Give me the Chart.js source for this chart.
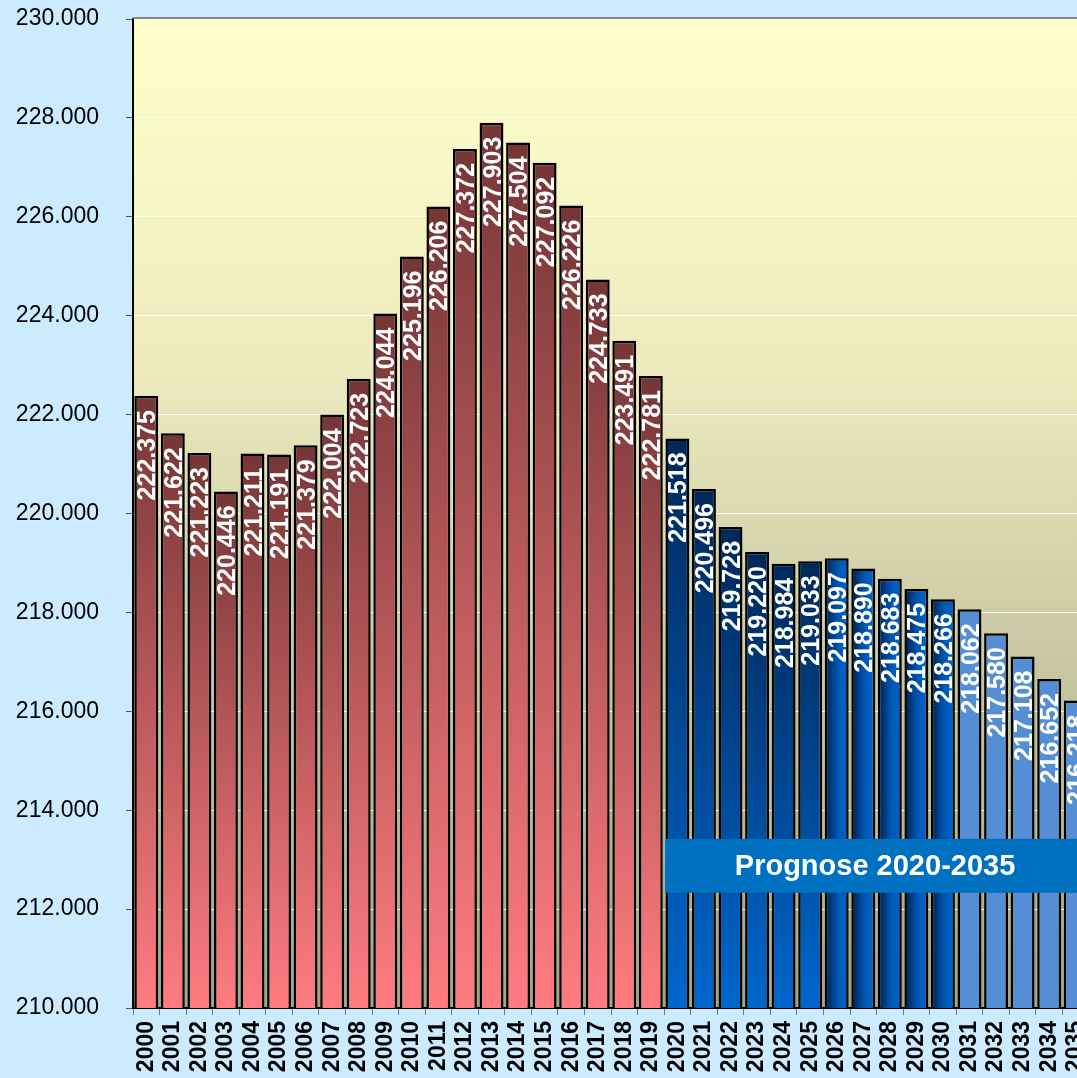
<!DOCTYPE html>
<html>
<head>
<meta charset="utf-8">
<script src="https://cdn.jsdelivr.net/npm/chart.js@4.4.1/dist/chart.umd.min.js"></script>
<style>
  html, body { margin: 0; padding: 0; background: #CCEBFF; overflow: hidden; }
  #wrap { width: 1100px; height: 1078px; }
</style>
</head>
<body>
<div id="wrap"><canvas id="c" width="1100" height="1078"></canvas></div>
<script>
// ---- data ----
const years = ['2000','2001','2002','2003','2004','2005','2006','2007','2008','2009',
  '2010','2011','2012','2013','2014','2015','2016','2017','2018','2019',
  '2020','2021','2022','2023','2024','2025','2026','2027','2028','2029',
  '2030','2031','2032','2033','2034','2035'];
const population = [222375, 221622, 221223, 220446, 221211, 221191, 221379, 222004, 222723, 224044,
  225196, 226206, 227372, 227903, 227504, 227092, 226226, 224733, 223491, 222781,
  221518, 220496, 219728, 219220, 218984, 219033, 219097, 218890, 218683, 218475,
  218266, 218062, 217580, 217108, 216652, 216218];
const yMin = 210000;
const yMax = 230000;
const yStep = 2000;
const forecastStartYear = 2020;
const forecastTitle = 'Prognose 2020-2035';

const FONT = '"Liberation Sans", Arial, Helvetica, sans-serif';
const fmt = v => Math.round(v).toString().replace(/\B(?=(\d{3})+(?!\d))/g, '.');

function barFill(ctx) {
  const chart = ctx.chart;
  const area = chart.chartArea;
  if (!area || ctx.type !== 'data') return '#884444';
  const i = ctx.dataIndex;
  const yr = parseInt(years[i], 10);
  const ys = chart.scales.y, xs = chart.scales.x;
  const top = ys.getPixelForValue(ctx.raw);
  const bottom = ys.getPixelForValue(yMin);
  const c = chart.ctx;
  if (yr < forecastStartYear) {
    const g = c.createLinearGradient(0, top, 0, bottom);
    g.addColorStop(0, '#763636');
    g.addColorStop(1, '#FF7C80');
    return g;
  }
  if (yr <= 2025) {
    const g = c.createLinearGradient(0, top, 0, bottom);
    g.addColorStop(0, '#00285A');
    g.addColorStop(1, '#0066CC');
    return g;
  }
  if (yr <= 2030) {
    const cx = xs.getPixelForValue(i);
    const w = (xs.width / years.length) * 0.9;
    const g = c.createLinearGradient(cx - w / 2, 0, cx + w / 2, 0);
    g.addColorStop(0, '#001E48');
    g.addColorStop(0.55, '#0056B4');
    g.addColorStop(1, '#0068D0');
    return g;
  }
  return '#558ED5';
}

const bgPlugin = {
  id: 'plotBg',
  beforeDraw(chart) {
    const { ctx, chartArea: a } = chart;
    ctx.save();
    const g = ctx.createLinearGradient(0, a.top, 0, a.bottom);
    g.addColorStop(0, '#FFFFCC');
    g.addColorStop(0.35, '#EDEBBE');
    g.addColorStop(0.65, '#C8C7A2');
    g.addColorStop(1, '#A4A486');
    ctx.fillStyle = g;
    ctx.fillRect(a.left, a.top, a.right - a.left, a.bottom - a.top);
    ctx.restore();
  },
  afterDraw(chart) {
    const { ctx, chartArea: a } = chart;
    ctx.save();
    ctx.strokeStyle = '#888888';
    ctx.lineWidth = 2;
    ctx.beginPath();
    ctx.moveTo(a.left, a.top - 1);
    ctx.lineTo(a.right, a.top - 1);
    ctx.stroke();
    ctx.restore();
  }
};

const labelPlugin = {
  id: 'barLabels',
  afterDatasetsDraw(chart) {
    const { ctx } = chart;
    const meta = chart.getDatasetMeta(0);
    ctx.save();
    ctx.fillStyle = '#FFFFFF';
    ctx.font = 'bold 25px ' + FONT;
    ctx.textAlign = 'right';
    ctx.textBaseline = 'alphabetic';
    meta.data.forEach((el, i) => {
      ctx.save();
      ctx.translate(el.x, el.y + 14);
      ctx.rotate(-Math.PI / 2);
      ctx.fillText(fmt(population[i]), 0, 9);
      ctx.restore();
    });
    ctx.restore();

    // forecast banner
    const xs = chart.scales.x, ys = chart.scales.y, a = chart.chartArea;
    const idx = years.indexOf(String(forecastStartYear));
    const catW = xs.width / years.length;
    const left = xs.getPixelForValue(idx) - catW / 2 + 1;
    const top = ys.getPixelForValue(213420);
    const bot = ys.getPixelForValue(212330);
    ctx.save();
    ctx.fillStyle = '#0070C0';
    ctx.fillRect(left, top, a.right - left, bot - top);
    ctx.fillStyle = '#FFFFFF';
    ctx.font = 'bold 29px ' + FONT;
    ctx.textAlign = 'center';
    ctx.textBaseline = 'middle';
    ctx.fillText(forecastTitle, (left + a.right) / 2 - 2, (top + bot) / 2 + 1);
    ctx.restore();
  }
};

new Chart(document.getElementById('c'), {
  type: 'bar',
  data: {
    labels: years,
    datasets: [{
      data: population,
      backgroundColor: barFill,
      borderColor: '#000000',
      borderWidth: 2.5,
      borderSkipped: false,
      barPercentage: 0.9,
      categoryPercentage: 1.0
    }]
  },
  options: {
    responsive: false,
    devicePixelRatio: 1,
    animation: false,
    layout: { padding: { top: 19, right: 11, left: 0, bottom: 0 } },
    plugins: { legend: { display: false }, tooltip: { enabled: false } },
    scales: {
      x: {
        offset: true,
        afterFit(s) { s.height = 70; s.paddingLeft = 0; s.paddingRight = 0; },
        grid: { drawOnChartArea: false, offset: true, tickLength: 7, tickColor: '#777777', tickWidth: 1 },
        border: { color: '#000000', width: 2 },
        ticks: {
          autoSkip: false, minRotation: 90, maxRotation: 90, padding: 6,
          color: '#000000',
          font: { family: FONT, size: 23, weight: 'bold' }
        }
      },
      y: {
        min: yMin, max: yMax,
        afterFit(s) { s.width = 133; s.paddingTop = 0; s.paddingBottom = 0; },
        grid: { color: 'rgba(255,255,255,0.9)', lineWidth: 1, tickLength: 7, tickColor: '#555555' },
        border: { color: '#000000', width: 2 },
        ticks: {
          stepSize: yStep, padding: 27, color: '#000000',
          font: { family: FONT, size: 23 },
          callback: v => fmt(v)
        }
      }
    }
  },
  plugins: [bgPlugin, labelPlugin]
});
</script>
</body>
</html>
